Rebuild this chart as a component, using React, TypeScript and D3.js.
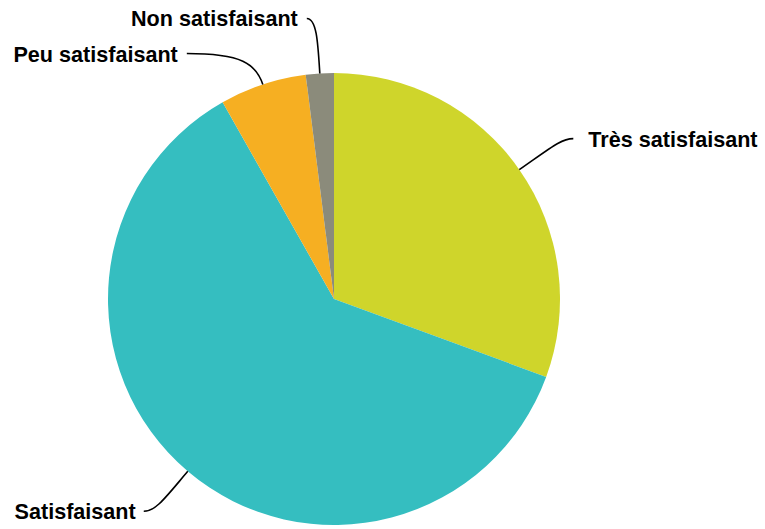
import React from "react";
import * as d3 from "d3";

const categories = ["Très satisfaisant", "Satisfaisant", "Peu satisfaisant", "Non satisfaisant"];
const values = [30.6, 61.2, 6.2, 2.0];
const colors = ["#CFD52B", "#35BEC0", "#F6AF22", "#8B8B7B"];

// label layout: offset of connector end from slice edge point, side, and curve tensions
const labelLayout = [
  { dx: 54, dy: -31, side: 1, gap: 15, k1: 40, k2: 12 },
  { dx: -44, dy: 40, side: -1, gap: 8, k1: 35, k2: 12 },
  { dx: -76, dy: -31, side: -1, gap: 9, k1: 22, k2: 55 },
  { dx: -13, dy: -55, side: -1, gap: 9, k1: 30, k2: 10 },
];

const W = 765;
const H = 529;
const cx = 334;
const cy = 299;
const R = 226;

export default function App() {
  const data = categories.map((c, i) => ({ c, v: values[i], i }));
  const pie = d3.pie<any>().value((d) => d.v).sort(null);
  const arcs = pie(data);
  const arc = d3.arc<any>().innerRadius(0).outerRadius(R);

  return (
    <svg
      width={W}
      height={H}
      style={{ position: "absolute", left: 0, top: 0, background: "#fff" }}
      fontFamily="'Liberation Sans', Arial, sans-serif"
    >
      <g transform={`translate(${cx},${cy})`}>
        {arcs.map((a, i) => (
          <path key={i} d={arc(a) as string} fill={colors[i]} stroke="none" />
        ))}
      </g>
      {arcs.map((a, i) => {
        const mid = (a.startAngle + a.endAngle) / 2;
        const ux = Math.sin(mid);
        const uy = -Math.cos(mid);
        const ex = cx + R * ux;
        const ey = cy + R * uy;
        const L = labelLayout[i];
        const ax = ex + L.dx;
        const ay = ey + L.dy;
        const c2x = ex + ux * L.k1;
        const c2y = ey + uy * L.k1;
        const c1x = ax - L.side * L.k2;
        const c1y = ay;
        const d = `M${ax},${ay} C${c1x},${c1y} ${c2x},${c2y} ${ex},${ey}`;
        const tx = ax + L.side * L.gap;
        return (
          <g key={"l" + i}>
            <path d={d} fill="none" stroke="#000" strokeWidth={1.6} />
            <text
              x={tx}
              y={ay + 8}
              textAnchor={L.side > 0 ? "start" : "end"}
              fontSize={21.6}
              fontWeight="bold"
              fill="#000"
            >
              {categories[i]}
            </text>
          </g>
        );
      })}
    </svg>
  );
}
